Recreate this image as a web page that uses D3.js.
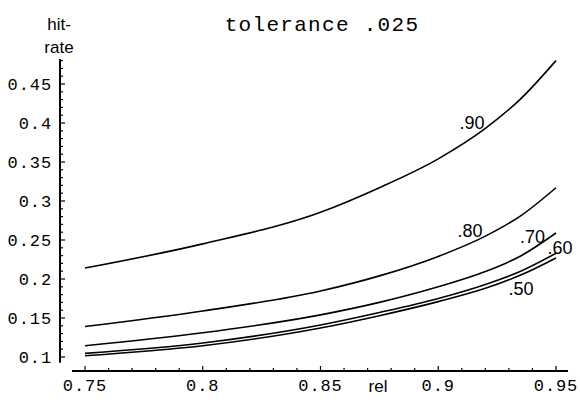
<!DOCTYPE html>
<html>
<head>
<meta charset="utf-8">
<script src="https://cdn.jsdelivr.net/npm/d3@7"></script>
<style>
  html, body { margin: 0; padding: 0; background: #fff; }
  svg { display: block; }
</style>
</head>
<body>
<svg id="chart" width="580" height="406"></svg>
<script>
// reliability values along the horizontal axis
const relValues = [0.75, 0.8, 0.85, 0.875, 0.9, 0.92, 0.935, 0.95];

// hit-rate curves, one per level
const seriesNames = [".90", ".80", ".70", ".60", ".50"];
const hit90 = [0.214, 0.245, 0.2855, 0.317, 0.354, 0.393, 0.431, 0.480];
const hit80 = [0.139, 0.159, 0.1846, 0.204, 0.229, 0.255, 0.281, 0.317];
const hit70 = [0.1145, 0.131, 0.154, 0.170, 0.190, 0.2095, 0.2295, 0.259];
const hit60 = [0.1047, 0.118, 0.141, 0.157, 0.175, 0.193, 0.210, 0.233];
const hit50 = [0.1017, 0.1145, 0.1372, 0.153, 0.171, 0.188, 0.205, 0.227];

// tick labels
const xTickLabels = ["0.75", "0.8", "0.85", "0.9", "0.95"];
const yTickLabels = ["0.1", "0.15", "0.2", "0.25", "0.3", "0.35", "0.4", "0.45"];

const titleText = "tolerance .025";

const svg = d3.select("#chart");

const x = d3.scaleLinear().domain([0.75, 0.95]).range([85, 556]);
const y = d3.scaleLinear().domain([0.1, 0.45]).range([357, 84]);

const monoFont = "'Liberation Mono', 'Courier New', monospace";
const sansFont = "'Liberation Sans', Arial, Helvetica, sans-serif";

// axis lines (separate, not meeting at a corner)
const xAxisY = 371;
const yAxisX = 60;

svg.append("line")
  .attr("x1", x(0.7445)).attr("x2", x(0.9551))
  .attr("y1", xAxisY).attr("y2", xAxisY)
  .attr("stroke", "#000").attr("stroke-width", 2);

svg.append("line")
  .attr("x1", yAxisX).attr("x2", yAxisX)
  .attr("y1", y(0.482)).attr("y2", y(0.0925))
  .attr("stroke", "#000").attr("stroke-width", 2);

// x ticks: major every 0.05, minor every 0.01, pointing up
const xMinor = d3.range(0, 21).map(i => 0.75 + i * 0.01).filter(v => v <= 0.9551);
svg.append("g").selectAll("line").data(xMinor).join("line")
  .attr("x1", d => x(d)).attr("x2", d => x(d))
  .attr("y1", xAxisY).attr("y2", (d, i) => xAxisY - (i % 5 === 0 ? 5 : 3))
  .attr("stroke", "#000").attr("stroke-width", 1.2);

svg.append("g").selectAll("text").data(xTickLabels).join("text")
  .attr("x", d => x(+d))
  .attr("y", 391)
  .attr("text-anchor", "middle")
  .attr("font-family", monoFont)
  .attr("font-size", 17)
  .attr("letter-spacing", 0.9)
  .text(d => d);

// y ticks: major every 0.05, minor every 0.01, pointing right
const yMinor = d3.range(0, 39).map(i => 0.1 + i * 0.01).filter(v => v <= 0.482);
svg.append("g").selectAll("line").data(yMinor).join("line")
  .attr("x1", yAxisX).attr("x2", (d, i) => yAxisX + (i % 5 === 0 ? 5 : 3))
  .attr("y1", d => y(d)).attr("y2", d => y(d))
  .attr("stroke", "#000").attr("stroke-width", 1.2);

svg.append("g").selectAll("text").data(yTickLabels).join("text")
  .attr("x", 52)
  .attr("y", d => y(+d))
  .attr("dy", "0.35em")
  .attr("text-anchor", "end")
  .attr("font-family", monoFont)
  .attr("font-size", 17)
  .attr("letter-spacing", 0.9)
  .text(d => d);

// axis titles
svg.append("text")
  .attr("x", 59).attr("y", 30)
  .attr("text-anchor", "middle")
  .attr("font-family", sansFont).attr("font-size", 17)
  .text("hit-");
svg.append("text")
  .attr("x", 59).attr("y", 53)
  .attr("text-anchor", "middle")
  .attr("font-family", sansFont).attr("font-size", 17)
  .text("rate");
svg.append("text")
  .attr("x", 378).attr("y", 392)
  .attr("text-anchor", "middle")
  .attr("font-family", sansFont).attr("font-size", 17)
  .text("rel");

// title
svg.append("text")
  .attr("x", 322).attr("y", 31)
  .attr("text-anchor", "middle")
  .attr("font-family", monoFont)
  .attr("font-size", 21)
  .attr("letter-spacing", 1.3)
  .text(titleText);

// curves
const allSeries = [hit90, hit80, hit70, hit60, hit50];
const line = d3.line()
  .x((d, i) => x(relValues[i]))
  .y(d => y(d))
  .curve(d3.curveMonotoneX);

svg.append("g").selectAll("path").data(allSeries).join("path")
  .attr("d", d => line(d))
  .attr("fill", "none")
  .attr("stroke", "#000")
  .attr("stroke-width", 1.6);

// curve labels, placed in data space next to each curve's right end
const labelRel = [0.9143, 0.9135, 0.940, 0.9517, 0.9351];
const labelHit = [0.392, 0.2538, 0.2462, 0.232, 0.1795];
svg.append("g").selectAll("text").data(seriesNames).join("text")
  .attr("x", (d, i) => x(labelRel[i]))
  .attr("y", (d, i) => y(labelHit[i]))
  .attr("text-anchor", "middle")
  .attr("font-family", sansFont)
  .attr("font-size", 18)
  .text(d => d);
</script>
</body>
</html>
